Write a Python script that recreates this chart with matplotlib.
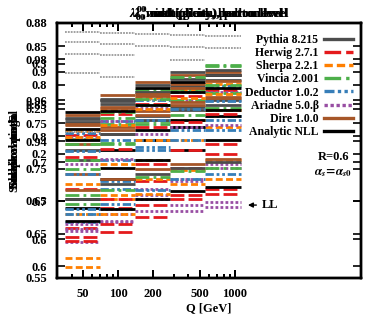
import numpy as np
import matplotlib
matplotlib.use("Agg")
import matplotlib.pyplot as plt

plt.rcParams['font.family'] = ['Liberation Serif', 'DejaVu Serif']
plt.rcParams['font.weight'] = 'bold'
plt.rcParams['mathtext.fontset'] = 'stix'
plt.rcParams['font.size'] = 9

# ---------------- data ----------------
edges = [35, 70, 140, 280, 560, 1120]
x_major = [50, 100, 200, 500, 1000]
x_major_labels = ["50", "100", "200", "500", "1000"]
x_minor = [40, 60, 70, 80, 90, 300, 400, 600, 700, 800, 900]

generators = ["Pythia 8.215", "Herwig 2.7.1", "Sherpa 2.2.1", "Vincia 2.001",
              "Deductor 1.0.2", "Ariadne 5.0.β", "Dire 1.0.0", "Analytic NLL"]

# panel A
A_pythia = [0.703, 0.726, 0.742, 0.752, 0.760]
A_herwig = [0.639, 0.652, 0.675, 0.703, 0.711]
A_sherpa = [0.599, 0.680, 0.711, 0.726, 0.734]
A_vincia = [0.695, 0.718, 0.737, 0.746, 0.752]
A_deductor = [0.680, 0.695, 0.718, 0.734, 0.742]
A_ariadne = [0.657, 0.669, 0.685, 0.685, 0.691]
A_dire = [0.718, 0.734, 0.749, 0.757, 0.765]
A_nll = [0.669, 0.688, 0.703, 0.715, 0.722]
A_ll = [0.898, 0.892, np.nan, np.nan, np.nan]
A_ticks = [0.6, 0.65, 0.7, 0.75, 0.8, 0.85, 0.9]

# panel E (same scale as A)
E_pythia = [0.829, 0.854, 0.869, 0.900, 0.903]
E_herwig = [0.768, 0.780, 0.814, 0.823, 0.834]
E_sherpa = [0.799, 0.818, 0.842, 0.860, 0.865]
E_vincia = [0.788, 0.829, 0.857, 0.891, 0.909]
E_deductor = [0.777, 0.795, 0.826, 0.842, 0.854]
E_ariadne = [0.757, 0.765, 0.803, 0.814, 0.818]
E_dire = [0.819, 0.845, 0.865, 0.875, 0.885]
E_nll = [0.811, 0.839, 0.849, 0.869, 0.875]

# panel B
B_pythia = [0.193, 0.222, 0.242, 0.252, 0.260]
B_herwig = [0.118, 0.140, 0.170, 0.185, 0.200]
B_sherpa = [0.133, 0.155, 0.193, 0.215, 0.230]
B_vincia = [0.155, 0.212, 0.237, 0.260, 0.267]
B_deductor = [0.125, 0.170, 0.208, 0.230, 0.242]
B_ariadne = [0.103, 0.125, 0.155, 0.170, 0.185]
B_dire = [0.178, 0.230, 0.248, 0.257, 0.263]
B_nll = [0.140, 0.185, 0.215, 0.230, 0.242]
B_ll = [0.234, np.nan, 0.260, np.nan, np.nan]
B_ll2 = [0.224, np.nan, np.nan, np.nan, np.nan]
B_ticks = [0.2, 0.25, 0.3]

# panel C
C_pythia = [0.951, 0.958, 0.964, 0.967, 0.970]
C_herwig = [0.943, 0.953, 0.958, 0.962, 0.965]
C_sherpa = [0.945, 0.955, 0.961, 0.965, 0.968]
C_vincia = [0.941, 0.954, 0.965, 0.971, 0.977]
C_deductor = [0.944, 0.950, 0.960, 0.964, 0.967]
C_ariadne = [0.942, 0.950, 0.956, 0.960, 0.964]
C_dire = [0.948, 0.956, 0.962, 0.968, 0.972]
C_nll = [0.954, 0.960, 0.966, 0.969, 0.972]
C_ll = [0.9932, 0.9927, 0.9922, 0.9917, 0.9912]
C_ll2 = [0.9883, 0.9873, 0.9863, 0.9859, 0.9854]
C_ticks = [0.94, 0.96, 0.98]

# panel D
D_pythia = [0.716, 0.736, 0.755, 0.768, 0.774]
D_herwig = [0.603, 0.620, 0.645, 0.658, 0.665]
D_sherpa = [0.576, 0.652, 0.678, 0.690, 0.703]
D_vincia = [0.703, 0.723, 0.749, 0.761, 0.770]
D_deductor = [0.684, 0.703, 0.729, 0.742, 0.755]
D_ariadne = [0.620, 0.639, 0.665, 0.645, 0.648]
D_dire = [0.723, 0.742, 0.761, 0.774, 0.783]
D_nll = [0.652, 0.678, 0.703, 0.716, 0.729]
D_ll = [0.840, 0.839, np.nan, 0.832, np.nan]
D_ticks = [0.55, 0.6, 0.65, 0.7, 0.75, 0.8, 0.85, 0.88]

# panel F (same scale as D)
F_pythia = [0.752, 0.781, 0.800, 0.807, 0.813]
F_herwig = [0.665, 0.652, 0.697, 0.716, 0.723]
F_sherpa = [0.671, 0.697, 0.729, 0.755, 0.768]
F_vincia = [0.691, 0.749, 0.774, 0.794, 0.800]
F_deductor = [0.639, 0.665, 0.716, 0.729, 0.742]
F_ariadne = [0.611, 0.633, 0.652, 0.678, 0.697]
F_dire = [0.761, 0.787, 0.804, 0.813, 0.817]
F_nll = [0.729, 0.716, 0.742, 0.755, 0.768]

titles = ["$\\lambda_0^0$ multiplicity, parton level",
          "$\\lambda_0^0$ multiplicity, hadron level",
          "$\\lambda_0^0$ width (gluon), parton level",
          "$\\lambda_0^0$ mass (quark), hadron level"]
ylabels = ["Sudakov ratio", "Shape ratio Σ", "Survival prob.", "Sudakov on gal"]

# ---------------- styles ----------------
colors = ['#4d4d4d', '#e41a1c', '#ff7f00', '#4daf4a', '#377eb8', '#984ea3', '#a65628', 'black']
styles = ['-', (0, (5, 1.5)), (0, (2.5, 1.2)), (0, (5, 1.5, 1, 1.5)),
          (0, (3, 1, 1, 1, 1, 1)), (0, (1, 0.8)), '-', '-']

panels = [
    (0.8732, 0.9976, C_ticks,
     [[C_pythia, C_herwig, C_sherpa, C_vincia, C_deductor, C_ariadne, C_dire, C_nll]], [C_ll, C_ll2]),
    (0.0627, 0.345, B_ticks,
     [[B_pythia, B_herwig, B_sherpa, B_vincia, B_deductor, B_ariadne, B_dire, B_nll]], [B_ll, B_ll2]),
    (0.55, 0.88, D_ticks,
     [[D_pythia, D_herwig, D_sherpa, D_vincia, D_deductor, D_ariadne, D_dire, D_nll],
      [F_pythia, F_herwig, F_sherpa, F_vincia, F_deductor, F_ariadne, F_dire, F_nll]], [D_ll]),
    (0.5815, 0.975, A_ticks,
     [[E_pythia, E_herwig, E_sherpa, E_vincia, E_deductor, E_ariadne, E_dire, E_nll],
      [A_pythia, A_herwig, A_sherpa, A_vincia, A_deductor, A_ariadne, A_dire, A_nll]], [A_ll]),
]

fig = plt.figure(figsize=(3.74, 3.24), dpi=100)
rect = [57/374, 1-278/324, (361-57)/374, (278-23)/324]

lo = np.array(edges[:-1])
hi = np.array(edges[1:])
axes = []
for i, (y0, y1, yt, groups, lls) in enumerate(panels):
    ax = fig.add_axes(rect, label=f"p{i}")
    ax.patch.set_visible(False)
    ax.set_xscale('log')
    ax.set_xlim(30, 12000)
    ax.set_ylim(y0, y1)
    for ll in lls:
        v = np.array(ll, dtype=float)
        m = ~np.isnan(v)
        ax.hlines(v[m], lo[m], hi[m], colors='#9a9a9a', linestyles=(0, (1, 0.6)), lw=1.3)
    for series in groups:
        for vals, c, s in zip(series, colors, styles):
            ax.hlines(vals, lo, hi, colors=c, linestyles=s, lw=2.0)
    ax.set_yticks(yt)
    ax.set_yticklabels([f"{t:g}" for t in yt])
    ax.set_xticks(x_major)
    ax.set_xticks(x_minor, minor=True)
    ax.set_xticklabels(x_major_labels if i == 0 else [""] * len(x_major))
    ax.set_xticklabels([], minor=True)
    ax.tick_params(which='both', direction='in', top=True, right=True, width=1.2)
    ax.tick_params(which='major', length=6, pad=7, labelsize=9)
    ax.tick_params(which='minor', length=3)
    for sp in ax.spines.values():
        sp.set_linewidth(1.6)
    ax.set_title(titles[i], fontsize=9, fontweight='bold', pad=4)
    ax.set_ylabel(ylabels[i], fontsize=9, fontweight='bold', labelpad=3)
    axes.append(ax)

axes[0].set_xlabel("Q [GeV]", fontsize=9, fontweight='bold', labelpad=2)
top = axes[-1]

handles = [plt.Line2D([], [], color=c, ls=s, lw=2.4) for c, s in zip(colors, styles)]
leg = top.legend(handles, generators, loc='upper right', bbox_to_anchor=(1.0, 0.99),
                 frameon=False, markerfirst=False, handlelength=2.4, handletextpad=0.5,
                 labelspacing=0.1, borderaxespad=0.3, fontsize=8.5)

top.text(0.911, 0.475, "R=0.6", transform=top.transAxes, ha='center', va='center', fontsize=9)
top.text(0.908, 0.412, "$\\alpha_s\\!=\\!\\alpha_{s0}$", transform=top.transAxes, ha='center', va='center', fontsize=9)
top.annotate("LL", xy=(0.628, 0.286), xytext=(0.674, 0.286), xycoords='axes fraction',
             textcoords='axes fraction', ha='left', va='center', fontsize=9,
             arrowprops=dict(arrowstyle='-|>', color='black', lw=1.0, shrinkA=2, shrinkB=0, mutation_scale=7))

fig.savefig("out.png", dpi=100)
